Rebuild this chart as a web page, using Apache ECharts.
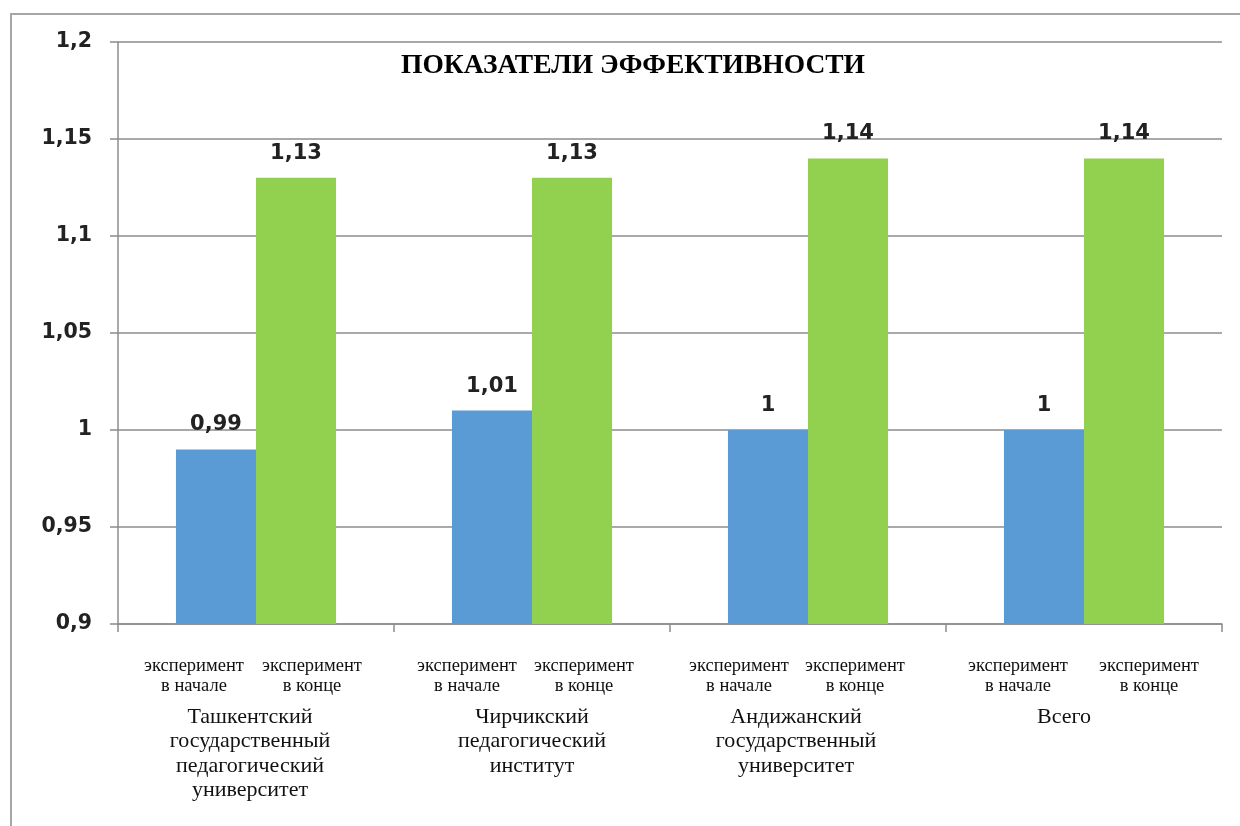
<!DOCTYPE html>
<html>
<head>
<meta charset="utf-8">
<script src="https://cdn.jsdelivr.net/npm/echarts@6/dist/echarts.min.js"></script>
<style>
  html, body { margin: 0; padding: 0; background: #fff; }
  #wrap { position: relative; width: 1240px; height: 826px; overflow: hidden; }
  #frame { position: absolute; left: 10px; top: 13px; width: 1300px; height: 900px;
           border-left: 2px solid #a6a6a6; border-top: 2px solid #a6a6a6; }
  #chart { position: absolute; left: 0; top: 0; width: 1240px; height: 826px; }
</style>
</head>
<body>
<div id="wrap">
  <div id="frame"></div>
  <div id="chart"></div>
</div>
<script>
// ---- data ----
const titleText = 'ПОКАЗАТЕЛИ ЭФФЕКТИВНОСТИ';
const categories = [
  'Ташкентский\nгосударственный\nпедагогический\nуниверситет',
  'Чирчикский\nпедагогический\nинститут',
  'Андижанский\nгосударственный\nуниверситет',
  'Всего'
];
const subLabels = ['эксперимент\nв начале', 'эксперимент\nв конце'];
const seriesNames = ['эксперимент в начале', 'эксперимент в конце'];
const startValues = [0.99, 1.01, 1, 1];
const endValues = [1.13, 1.13, 1.14, 1.14];
const yTicks = { min: 0.9, max: 1.2, interval: 0.05 };

// ---- label layout (style only) ----
const subWidths = [[112, 124], [104, 130], [94, 138], [130, 132]];
const mainShift = [12, 0, 24, 40];

const fmt = v => String(+(+v).toFixed(2)).replace('.', ',');

const rich = {};
categories.forEach((c, i) => {
  const subBase = { fontFamily: 'Liberation Serif', fontSize: 18.5, color: '#111', lineHeight: 20, align: 'center' };
  rich['a' + i] = Object.assign({ width: subWidths[i][0] }, subBase);
  rich['b' + i] = Object.assign({ width: subWidths[i][1] }, subBase);
  const mainBase = { fontFamily: 'Liberation Serif', fontSize: 22, color: '#111', align: 'center' };
  rich['f' + i] = Object.assign({ lineHeight: 33, padding: [9, mainShift[i], 0, 0] }, mainBase);
  rich['m' + i] = Object.assign({ lineHeight: 24.5, padding: [0, mainShift[i], 0, 0] }, mainBase);
});

function xLabel(value, index) {
  const sA = subLabels[0].split('\n');
  const sB = subLabels[1].split('\n');
  const lines = [];
  for (let k = 0; k < sA.length; k++) {
    lines.push('{a' + index + '|' + sA[k] + '}{b' + index + '|' + sB[k] + '}');
  }
  value.split('\n').forEach((t, k) => {
    lines.push('{' + (k === 0 ? 'f' : 'm') + index + '|' + t + '}');
  });
  return lines.join('\n');
}

const chart = echarts.init(document.getElementById('chart'), null, { renderer: 'canvas' });
const labelStyle = {
  show: true, position: 'top', distance: 14,
  fontFamily: 'DejaVu Sans', fontWeight: 'bold', fontSize: 21, color: '#222',
  formatter: p => fmt(p.value)
};
chart.setOption({
  animation: false,
  backgroundColor: 'transparent',
  title: {
    text: titleText, left: 628, top: 47, textAlign: 'center',
    textStyle: { fontFamily: 'Liberation Serif', fontWeight: 'bold', fontSize: 27.5, color: '#000' }
  },
  grid: { left: 118, right: 18, top: 42, bottom: 202, containLabel: false },
  xAxis: {
    type: 'category',
    data: categories,
    axisLine: { lineStyle: { color: '#8c8c8c', width: 1.5 } },
    axisTick: { show: true, length: 8, lineStyle: { color: '#8c8c8c', width: 1.5 } },
    axisLabel: { interval: 0, margin: 32, formatter: xLabel, rich: rich }
  },
  yAxis: {
    type: 'value', min: yTicks.min, max: yTicks.max, interval: yTicks.interval,
    axisLine: { show: true, lineStyle: { color: '#8c8c8c', width: 1.5 } },
    axisTick: { show: true, length: 8, lineStyle: { color: '#8c8c8c', width: 1.5 } },
    splitLine: { lineStyle: { color: '#8c8c8c', width: 1.5 } },
    axisLabel: { margin: 26, fontFamily: 'DejaVu Sans', fontWeight: 'bold', fontSize: 20.5, color: '#222', formatter: fmt }
  },
  series: [
    { name: seriesNames[0], type: 'bar', data: startValues, barGap: '0%', barCategoryGap: '42%',
      itemStyle: { color: '#5b9bd5' }, label: labelStyle },
    { name: seriesNames[1], type: 'bar', data: endValues, barGap: '0%', barCategoryGap: '42%',
      itemStyle: { color: '#92d050' }, label: labelStyle }
  ]
});
</script>
</body>
</html>
